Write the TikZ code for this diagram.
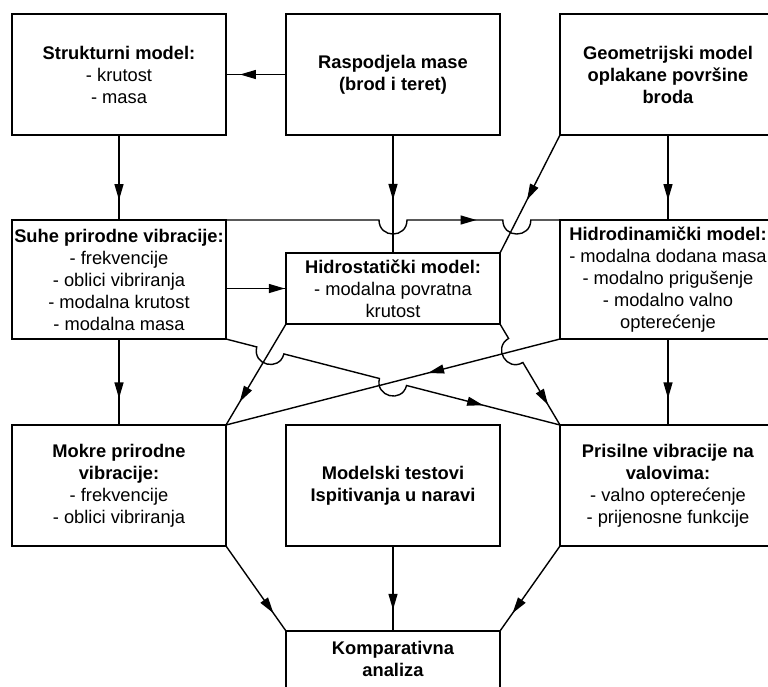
\documentclass[tikz,border=0pt]{standalone}
\usepackage{fontspec}
\setmainfont{Liberation Sans}
\usetikzlibrary{arrows.meta,calc,decorations.markings}
\tikzset{
  box/.style={draw, line width=1.4pt, rectangle, inner sep=0pt, outer sep=0pt,
    align=center, font=\fontsize{18.3}{22}\selectfont},
  txt/.style={inner sep=0pt, outer sep=0pt, align=center, font=\fontsize{18.3}{22}\selectfont},
  conn/.style={line width=1.4pt},
  arrowat/.style={line width=1.4pt, postaction={decorate},
    decoration={markings, mark=at position #1 with {\arrow{Triangle[length=16pt,width=9pt]}}}},
}
% hop coordinates: #1 prefix, #2 crossing, #3 from, #4 to
\newcommand\mkhop[4]{%
  \coordinate (#1a) at ($(#2)!14pt!(#3)$);
  \coordinate (#1b) at ($(#2)!14pt!(#4)$);
  \coordinate (#1c) at ($(#1a)!18.7pt!-90:(#2)$);
  \coordinate (#1d) at ($(#1b)!18.7pt!90:(#2)$);
}
\begin{document}
\begin{tikzpicture}[x=1pt,y=-1pt]
\useasboundingbox (0,0) rectangle (768,686);

% top row
\node[box, minimum width=214pt, minimum height=121pt] (strukt) at (119,74.5)
  {\textbf{Strukturni model:}\\- krutost\\- masa};
\node[box, minimum width=214pt, minimum height=121pt] (rasp) at (393,74.5)
  {\textbf{Raspodjela mase}\\\textbf{(brod i teret)}};
\node[box, minimum width=216pt, minimum height=121pt] (geom) at (668,74.5)
  {\textbf{Geometrijski model}\\\textbf{oplakane površine}\\\textbf{broda}};

% middle row
\node[box, minimum width=214pt, minimum height=119pt] (suhe) at (119,279.5)
  {\textbf{Suhe prirodne vibracije:}\\- frekvencije\\- oblici vibriranja\\- modalna krutost\\- modalna masa};
\node[box, minimum width=214pt, minimum height=71pt] (hstat) at (393,288.5)
  {\textbf{Hidrostatički model:}\\- modalna povratna\\krutost};
\node[box, minimum width=216pt, minimum height=119pt] (hdin) at (668,279.5)
  {\textbf{Hidrodinamički model:}\\- modalna dodana masa\\- modalno prigušenje\\- modalno valno\\opterećenje};

% third row
\node[box, minimum width=214pt, minimum height=121pt] (mokre) at (119,485.5)
  {\textbf{Mokre prirodne}\\\textbf{vibracije:}\\- frekvencije\\- oblici vibriranja};
\node[box, minimum width=214pt, minimum height=121pt] (model) at (393,485.5)
  {\textbf{Modelski testovi}\\\textbf{Ispitivanja u naravi}};
\node[box, minimum width=216pt, minimum height=121pt] (pris) at (668,485.5)
  {\textbf{Prisilne vibracije na}\\\textbf{valovima:}\\- valno opterećenje\\- prijenosne funkcije};

% bottom
\node[box, minimum width=214pt, minimum height=121pt] (komp) at (393,691.5) {};
\node[txt] (kompt) at (393,658.5) {\textbf{Komparativna}\\\textbf{analiza}};

% corner coordinates
\coordinate (sNE) at (suhe.north east);
\coordinate (sSE) at (suhe.south east);
\coordinate (rS) at (rasp.south);
\coordinate (hsN) at (hstat.north);
\coordinate (hsNE) at (hstat.north east);
\coordinate (hsSW) at (hstat.south west);
\coordinate (hsSE) at (hstat.south east);
\coordinate (hdNW) at (hdin.north west);
\coordinate (hdSW) at (hdin.south west);
\coordinate (gSW) at (geom.south west);
\coordinate (mNE) at (mokre.north east);
\coordinate (pNW) at (pris.north west);

% crossings
\coordinate (x1) at (intersection of sNE--hdNW and rS--hsN);
\coordinate (x2) at (intersection of sNE--hdNW and gSW--hsNE);
\coordinate (x3) at (intersection of sSE--pNW and hsSW--mNE);
\coordinate (x4) at (intersection of sSE--pNW and hdSW--mNE);
\coordinate (x5) at (intersection of hsSE--pNW and hdSW--mNE);
\mkhop{ha}{x1}{sNE}{hdNW}
\mkhop{hb}{x2}{sNE}{hdNW}
\mkhop{hc}{x3}{sSE}{pNW}
\mkhop{hd}{x4}{sSE}{pNW}
\mkhop{he}{x5}{hsSE}{pNW}

% simple connectors
\draw[arrowat=0.767] (rasp.west) -- (strukt.east);
\draw[arrowat=0.765] (strukt.south) -- (suhe.south |- suhe.north);
\draw[arrowat=0.55] (rS) -- (hsN);
\draw[arrowat=0.765] (geom.south) -- (hdin.north);
\draw[arrowat=0.55] (gSW) -- (hsNE);
\draw[arrowat=0.98] (suhe.east |- hstat.west) -- (hstat.west);
\draw[arrowat=0.77] (hsSW) -- (mNE);
\draw[arrowat=0.395] (hdSW) -- (mNE);
\draw[arrowat=0.69] (hdin.south) -- (pris.north);
\draw[arrowat=0.69] (suhe.south) -- (mokre.north);
\draw[arrowat=0.79] (mokre.south east) -- (komp.north west);
\draw[arrowat=0.79] (pris.south west) -- (komp.north east);
\draw[arrowat=0.75] (model.south) -- (komp.north);

% connectors with line jumps
\draw[conn] (sNE) -- (haa) .. controls (hac) and (had) .. (hab)
  -- (hba) .. controls (hbc) and (hbd) .. (hbb) -- (hdNW);
\path[arrowat=0.75] (sNE) -- (hdNW);
\draw[conn] (sSE) -- (hca) .. controls (hcc) and (hcd) .. (hcb)
  -- (hda) .. controls (hdc) and (hdd) .. (hdb) -- (pNW);
\path[arrowat=0.77] (sSE) -- (pNW);
\draw[conn] (hsSE) -- (hea) .. controls (hec) and (hed) .. (heb) -- (pNW);
\path[arrowat=0.80] (hsSE) -- (pNW);
\end{tikzpicture}
\end{document}
